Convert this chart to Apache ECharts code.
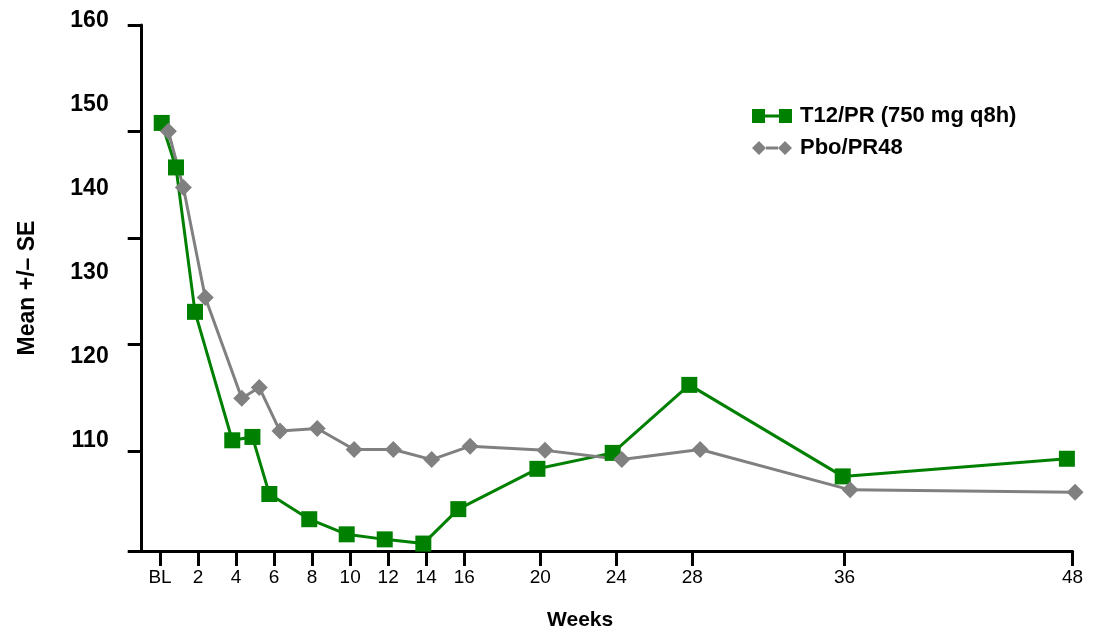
<!DOCTYPE html>
<html>
<head>
<meta charset="utf-8">
<script src="https://cdn.jsdelivr.net/npm/echarts@6/dist/echarts.min.js"></script>
<style>
  html, body { margin: 0; padding: 0; background: #fff; }
  #chart { width: 1093px; height: 630px; }
</style>
</head>
<body>
<div id="chart"></div>
<script>
  // values (weeks, mean)
  var greenWeeks = [0.09, 0.84, 1.84, 3.80, 4.86, 5.75, 7.85, 9.82, 11.82, 13.85, 15.69, 19.85, 23.81, 27.84, 35.91, 47.70];
  var greenMean  = [147.8, 142.5, 125.3, 110.0, 110.4, 103.6, 100.6, 98.8, 98.2, 97.7, 101.8, 106.6, 108.5, 116.6, 105.7, 107.8];
  var grayWeeks  = [0.44, 1.23, 2.38, 4.30, 5.22, 6.31, 8.27, 10.21, 12.27, 14.29, 16.31, 20.25, 24.29, 28.41, 36.30, 48.13];
  var grayMean   = [146.8, 140.1, 127.0, 115.0, 116.3, 111.1, 111.4, 108.9, 108.9, 107.7, 109.3, 108.8, 107.7, 108.9, 104.1, 103.8];

  var xTickWeeks  = [0, 2, 4, 6, 8, 10, 12, 14, 16, 20, 24, 28, 36, 48];
  var xTickLabels = ['BL', '2', '4', '6', '8', '10', '12', '14', '16', '20', '24', '28', '36', '48'];
  var yTickLabels = [110, 120, 130, 140, 150, 160];

  var seriesNames = ['T12/PR (750 mg q8h)', 'Pbo/PR48'];

  function pairs(xs, ys) {
    var out = [];
    for (var i = 0; i < xs.length; i++) out.push([xs[i], ys[i]]);
    return out;
  }

  var font = '"Liberation Sans", Arial, sans-serif';
  var chart = echarts.init(document.getElementById('chart'));

  var option = {
    animation: false,
    backgroundColor: '#fff',
    textStyle: { fontFamily: font },
    grid: [
      { left: 141.7, right: 20.4, top: 25, bottom: 79, containLabel: false, outerBoundsMode: 'none' },
      { left: 141.7, right: 20.4, top: 20.5, height: 419.8, containLabel: false, outerBoundsMode: 'none' }
    ],
    legend: {
      orient: 'vertical',
      left: 752,
      top: 105,
      padding: 0,
      itemWidth: 40,
      itemHeight: 14,
      itemGap: 10,
      textStyle: { fontFamily: font, fontSize: 22, fontWeight: 'bold', color: '#000', padding: [0, 0, 0, 3] },
      data: [
        { name: seriesNames[0], icon: 'path://M0,0H13V14H0Z M27,0H40V14H27Z M13,5.5H27V8.5H13Z' },
        { name: seriesNames[1], icon: 'path://M0,7L7,0L14,7L7,14Z M26,7L33,0L40,7L33,14Z M14,5.5H26V8.5H14Z' }
      ]
    },
    xAxis: [{
      type: 'value',
      gridIndex: 0,
      min: -0.963,
      max: 48,
      name: 'Weeks',
      nameLocation: 'middle',
      nameGap: 59,
      nameTextStyle: { fontFamily: font, fontSize: 21, fontWeight: 'bold', color: '#000', padding: [0, 54, 0, 0] },
      axisLine: { lineStyle: { color: '#000', width: 3 } },
      axisTick: { customValues: xTickWeeks, length: 15, lineStyle: { color: '#000', width: 3 } },
      axisLabel: {
        customValues: xTickWeeks,
        margin: 17,
        fontSize: 19,
        color: '#000',
        formatter: function (v) { return xTickLabels[xTickWeeks.indexOf(v)]; }
      },
      splitLine: { show: false }
    }, {
      type: 'value',
      gridIndex: 1,
      show: false
    }],
    yAxis: [{
      // data scale
      type: 'value',
      gridIndex: 0,
      position: 'left',
      min: 96.814,
      max: 159.464,
      show: false
    }, {
      // visible frame axis with its ticks
      type: 'value',
      gridIndex: 0,
      position: 'left',
      offset: 0,
      min: 110.6,
      max: 160,
      name: 'Mean +/\u2013 SE',
      nameLocation: 'middle',
      nameRotate: 90,
      nameGap: 85,
      nameTextStyle: { fontFamily: font, fontSize: 23, fontWeight: 'bold', color: '#000', padding: [0, 0, 18, 0] },
      axisLine: { show: true, lineStyle: { color: '#000', width: 3 } },
      axisTick: { show: true, customValues: [110.6, 120, 130, 140, 150, 160], length: 14, lineStyle: { color: '#000', width: 3 } },
      axisLabel: { show: false },
      splitLine: { show: false }
    }, {
      // tick labels
      type: 'value',
      gridIndex: 1,
      position: 'left',
      min: 110,
      max: 160,
      interval: 10,
      axisLine: { show: false },
      axisTick: { show: false },
      axisLabel: {
        customValues: yTickLabels,
        margin: 33,
        fontSize: 23,
        fontWeight: 'bold',
        color: '#000'
      },
      splitLine: { show: false }
    }],
    series: [{
      name: seriesNames[0],
      type: 'line',
      xAxisIndex: 0,
      yAxisIndex: 0,
      data: pairs(greenWeeks, greenMean),
      symbol: 'rect',
      symbolSize: 16,
      clip: false,
      lineStyle: { color: '#008000', width: 3 },
      itemStyle: { color: '#008000' }
    }, {
      name: seriesNames[1],
      type: 'line',
      xAxisIndex: 0,
      yAxisIndex: 0,
      data: pairs(grayWeeks, grayMean),
      symbol: 'diamond',
      symbolSize: 17,
      clip: false,
      lineStyle: { color: '#808080', width: 3 },
      itemStyle: { color: '#808080' }
    }]
  };

  option && chart.setOption(option);
</script>
</body>
</html>
